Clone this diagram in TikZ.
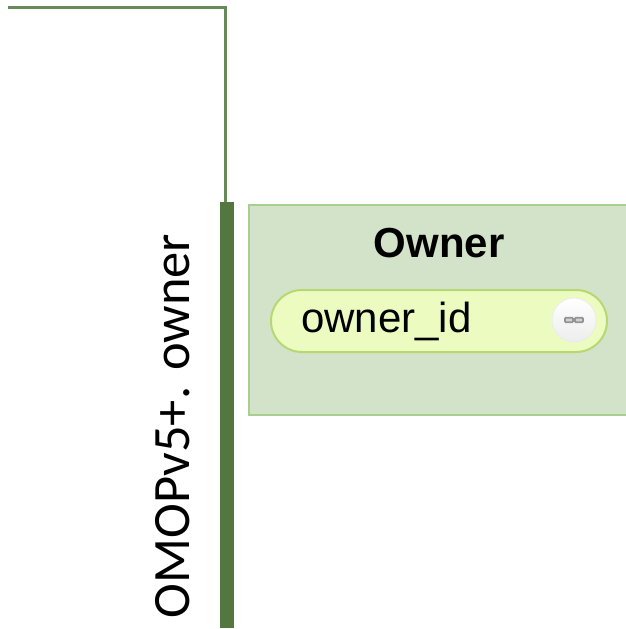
\documentclass[tikz,border=0pt]{standalone}
\usepackage{fontspec}
\setmainfont{Liberation Sans}
\newfontfamily\sidefont{Carlito}
\usepackage{xcolor}
\definecolor{barGreen}{HTML}{54763F}
\definecolor{lineGreen}{HTML}{668A58}
\definecolor{panelFill}{HTML}{D2E3C9}
\definecolor{panelEdge}{HTML}{A8CE90}
\definecolor{keyFill}{HTML}{ECFCC0}
\definecolor{keyEdge}{HTML}{B7D773}
\usetikzlibrary{positioning}

\begin{document}
\begin{tikzpicture}[x=1pt, y=-1pt, inner sep=0pt, outer sep=0pt,
  bar/.style = {fill=barGreen, minimum width=14pt, minimum height=426pt},
  panel/.style = {draw=panelEdge, line width=2pt, fill=panelFill, minimum width=400pt, minimum height=210pt, anchor=north west},
  keyfield/.style = {draw=keyEdge, line width=2pt, fill=keyFill, rounded corners=31pt, minimum width=336pt, minimum height=62pt, anchor=north west},
  button/.style = {circle, draw=white!92!black, line width=0.8pt, top color=white, bottom color=white!93!black, minimum size=44pt},
  link/.style = {draw=black!42, fill=black!18, line width=1.8pt, rounded corners=0.8pt, minimum width=8pt, minimum height=4.5pt}]
\path[use as bounding box, clip] (0,0) rectangle (626,629);
\node[bar] (bar) at (227,415) {};
\coordinate (start) at (8,7);
\coordinate (corner) at (225,7);
\draw[lineGreen, line width=3pt] (start) -- (corner) -- (corner |- bar.north);
\node[rotate=90, anchor=south west, font=\sidefont\fontsize{52.5}{52.5}\selectfont] (schema) at (190,618) {OMOPv5+. owner};
\node[panel] (owner) at (249,205) {};
\node[font=\bfseries\fontsize{42}{42}\selectfont] (title) at (439,243) {Owner};
\node[keyfield] (ownerid) at (271,290) {};
\node[font=\fontsize{42}{42}\selectfont, anchor=base west] (idlabel) at (301,332) {owner\_id};
\node[button] (btn) at (574,320) {};
\node[link, xshift=-5pt] (linka) at (btn) {};
\node[link, right=2pt of linka] (linkb) {};
\end{tikzpicture}
\end{document}
